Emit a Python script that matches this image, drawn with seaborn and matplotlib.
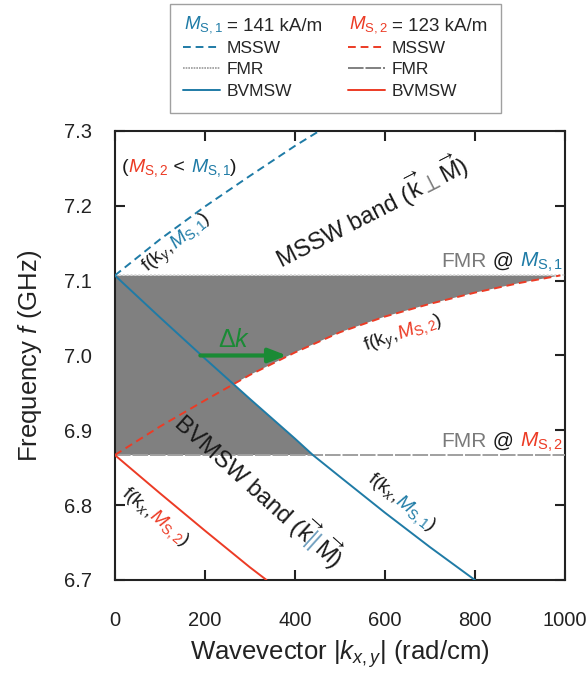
"""plot.py - MSSW / BVMSW dispersion bands for two saturation magnetisations"""
import matplotlib
matplotlib.use("Agg")
import numpy as np
import matplotlib.pyplot as plt
import seaborn as sns
from matplotlib import transforms as mtransforms
from matplotlib.legend_handler import HandlerBase
from matplotlib.lines import Line2D
from matplotlib.text import Text

# values (k in rad/cm, f in GHz)
k_mssw1 = [0, 100, 200, 300, 400, 500]
f_mssw1 = [7.107, 7.155, 7.199, 7.240, 7.280, 7.317]
k_mssw2 = [0, 100, 200, 300, 400, 500, 600, 700, 800, 900, 990]
f_mssw2 = [6.867, 6.905, 6.940, 6.974, 7.004, 7.031, 7.052, 7.069, 7.084, 7.097, 7.107]
k_bv1 = [0, 100, 200, 300, 400, 440, 500, 600, 700, 800]
f_bv1 = [7.107, 7.051, 6.996, 6.942, 6.889, 6.867, 6.838, 6.790, 6.744, 6.700]
k_bv2 = [0, 100, 200, 300, 337]
f_bv2 = [6.867, 6.816, 6.766, 6.717, 6.700]
fmr1 = 7.107
fmr2 = 6.867
dk_k = [190, 382]
dk_f = 7.0
ms1_label = "= 141 kA/m"
ms2_label = "= 123 kA/m"

BLUE = "#1f7ba6"
RED = "#ec3b25"
GRAY = "#808080"
TXTGRAY = "#7a7a7a"
GREEN = "#1a8a35"

sns.set_theme(style="ticks")
plt.rcParams["font.family"] = ["Liberation Sans", "DejaVu Sans"]
plt.rcParams["mathtext.fontset"] = "custom"
plt.rcParams["mathtext.rm"] = "Liberation Sans"
plt.rcParams["mathtext.it"] = "Liberation Sans:italic"
plt.rcParams["mathtext.bf"] = "Liberation Sans:bold"

fig = plt.figure(figsize=(5.86, 6.77), dpi=100)
ax = fig.add_axes([0.196, 0.1433, 0.768, 0.6632])
renderer = fig.canvas.get_renderer()

MS1 = r"$M_{\mathrm{S,1}}$"
MS2 = r"$M_{\mathrm{S,2}}$"


def text_width(s, size):
    t = fig.text(0, 0, s, fontsize=size)
    w = t.get_window_extent(renderer).width
    t.remove()
    return w


def multicolor_text(x, y, parts, size=14, angle=0, ha="left"):
    """draw pieces of text one after another along a rotated baseline"""
    th = np.deg2rad(angle)
    ref = text_width("l", size)
    full = "".join(p for p, _ in parts)
    start = -(text_width(full + "l", size) - ref) if ha == "right" else 0
    prefix = ""
    for s, c in parts:
        off = start + (text_width(prefix + "l", size) - ref if prefix else 0)
        tr = mtransforms.offset_copy(ax.transData, fig=fig, x=off * np.cos(th),
                                     y=off * np.sin(th), units="dots")
        ax.text(x, y, s, color=c, fontsize=size, rotation=angle,
                rotation_mode="anchor", ha="left", va="baseline", transform=tr, zorder=6)
        prefix += s


# shaded band
bv_in = [(k, f) for k, f in zip(k_bv1, f_bv1) if f >= fmr2]
ax.fill([k for k, _ in bv_in] + [0], [f for _, f in bv_in] + [fmr2],
        color=GRAY, lw=0, zorder=1)
ax.fill(k_mssw2 + [k_mssw2[-1], 0], f_mssw2 + [fmr1, fmr1],
        color=GRAY, lw=0, zorder=1)

# FMR levels
ax.axhline(fmr1, color="#d8d8d8", lw=1.4, linestyle=(0, (1, 1)), zorder=3)
ax.axhline(fmr2, color="#a0a0a0", lw=1.4, linestyle=(0, (8, 1)), zorder=3)

# dispersion curves
sns.lineplot(x=k_mssw1, y=f_mssw1, color=BLUE, lw=1.4, linestyle=(0, (4, 2.5)), ax=ax, zorder=4)
sns.lineplot(x=k_mssw2, y=f_mssw2, color=RED, lw=1.4, linestyle=(0, (4, 2.5)), ax=ax, zorder=4)
sns.lineplot(x=k_bv1, y=f_bv1, color=BLUE, lw=1.4, ax=ax, zorder=4)
sns.lineplot(x=k_bv2, y=f_bv2, color=RED, lw=1.4, ax=ax, zorder=4)

# delta k arrow
ax.annotate("", xy=(dk_k[1], dk_f), xytext=(dk_k[0], dk_f),
            arrowprops=dict(arrowstyle="-|>,head_length=0.9,head_width=0.35",
                            color=GREEN, lw=3, shrinkA=0, shrinkB=0), zorder=5)
ax.text(np.mean(dk_k) - 22, dk_f + 0.012, r"$\Delta k$", color=GREEN, fontsize=18,
        ha="center", va="baseline", zorder=6)

# annotations
multicolor_text(15, 7.245, [("(", "k"), (MS2, RED), (" < ", "k"), (MS1, BLUE), (")", "k")], size=14)
multicolor_text(74, 7.111, [("f(k$_y$,", "k"), (MS1, BLUE), (")", "k")], size=14, angle=40)
multicolor_text(371, 7.118, [("MSSW band (", "k"), (r"$\overrightarrow{\mathrm{k}}$", "k"),
                             (r"$\perp$", TXTGRAY), (r"$\overrightarrow{\mathrm{M}}$", "k"), (")", "k")],
                size=17, angle=27)
multicolor_text(995, 7.118, [("FMR", TXTGRAY), (" @ ", "k"), (MS1, BLUE)], size=15, ha="right")
multicolor_text(558, 7.005, [("f(k$_y$,", "k"), (MS2, RED), (")", "k")], size=14, angle=20)
multicolor_text(995, 6.878, [("FMR", TXTGRAY), (" @ ", "k"), (MS2, RED)], size=15, ha="right")
multicolor_text(129, 6.907, [("BVMSW band (", "k"), (r"$\overrightarrow{\mathrm{k}}$", "k"),
                             ("||", "#6f9fbf"), (r"$\overrightarrow{\mathrm{M}}$", "k"), (")", "k")],
                size=17, angle=-42)
multicolor_text(560, 6.833, [("f(k$_x$,", "k"), (MS1, BLUE), (")", "k")], size=14, angle=-38)
multicolor_text(14, 6.815, [("f(k$_x$,", "k"), (MS2, RED), (")", "k")], size=14, angle=-40)

# axes styling
ax.set_xlim(0, 1000)
ax.set_ylim(6.7, 7.3)
ax.set_xticks([0, 200, 400, 600, 800, 1000])
ax.set_yticks([6.7, 6.8, 6.9, 7.0, 7.1, 7.2, 7.3])
ax.yaxis.set_major_formatter(matplotlib.ticker.FormatStrFormatter("%.1f"))
ax.tick_params(direction="in", length=7, width=1.5, top=True, right=True,
               labelsize=14.5, colors="#222222")
ax.tick_params(axis="x", pad=22)
ax.tick_params(axis="y", pad=16.5)
for sp in ax.spines.values():
    sp.set_linewidth(1.5)
    sp.set_color("#222222")
ax.set_xlabel(r"Wavevector $|k_{x,y}|$ (rad/cm)", fontsize=18.5, color="#222222", labelpad=6)
ax.set_ylabel(r"Frequency $f$ (GHz)", fontsize=18.5, color="#222222", labelpad=14)


# legend with coloured M_S headers
class Header:
    def __init__(self, text, color):
        self.text = text
        self.color = color


class HeaderHandler(HandlerBase):
    def create_artists(self, legend, orig_handle, xdescent, ydescent, width, height, fontsize, trans):
        t = Text(x=width - xdescent + 2, y=-ydescent + height / 2, text=orig_handle.text,
                 color=orig_handle.color, fontsize=13.5, ha="right", va="center",
                 transform=trans)
        return [t]


handles = [
    Header(MS1, BLUE),
    Line2D([], [], color=BLUE, lw=1.4, linestyle=(0, (4, 2.5))),
    Line2D([], [], color="#999999", lw=1.2, linestyle=(0, (1, 0.6))),
    Line2D([], [], color=BLUE, lw=1.4),
    Header(MS2, RED),
    Line2D([], [], color=RED, lw=1.4, linestyle=(0, (4, 2.5))),
    Line2D([], [], color="#808080", lw=1.4, linestyle=(0, (8, 1))),
    Line2D([], [], color=RED, lw=1.4),
]
labels = [ms1_label, "MSSW", "FMR", "BVMSW", ms2_label, "MSSW", "FMR", "BVMSW"]
leg = fig.legend(handles, labels, ncol=2, loc="upper center", bbox_to_anchor=(0.572, 0.997),
                 handler_map={Header: HeaderHandler()}, fontsize=12.5, handlelength=2.1,
                 handletextpad=0.4, columnspacing=1.5, labelspacing=0.36,
                 frameon=True, fancybox=False, edgecolor="#888888", borderpad=0.8,
                 borderaxespad=0.1)
leg.get_frame().set_linewidth(1.0)
leg.get_texts()[0].set_fontsize(13.5)
leg.get_texts()[4].set_fontsize(13.5)

fig.savefig("out.png", dpi=100)
